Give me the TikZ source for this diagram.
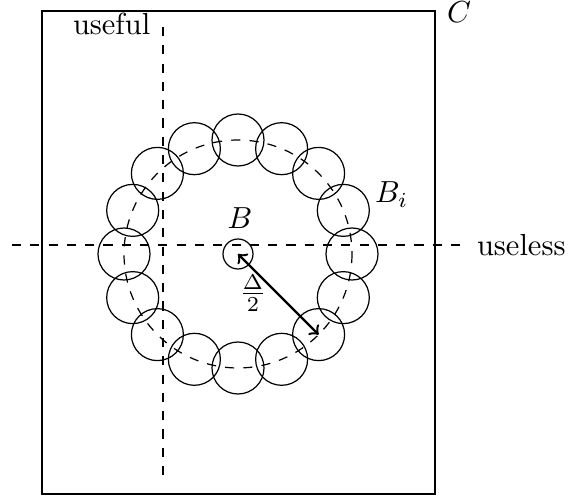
\documentclass[tikz,border=0pt]{standalone}
\usetikzlibrary{calc}
\begin{document}
\begin{tikzpicture}[x=0.328pt,y=-0.328pt,
  guide/.style={dashed, line width=0.4pt},
  ringcircle/.style={line width=0.4pt},
  lbl/.style={inner sep=0pt, outer sep=0pt}]
\useasboundingbox (0,0) rectangle (568,499);
% box C
\draw[line width=0.5pt] (42,11) rectangle (435,494);
\node[lbl, anchor=base west] (Clbl) at (447,23) {$C$};
% guide lines
\coordinate (hl) at (12,245);
\coordinate (hr) at (466,245);
\coordinate (vt) at (163,27);
\coordinate (vb) at (163,479);
\draw[guide] (hl) -- (hr);
\draw[guide] (vt) -- (vb);
\node[lbl, anchor=base west] (useless) at (477,256) {useless};
\node[lbl, anchor=base west] (useful) at (73,35) {useful};
% centre and ring
\coordinate (O) at (238,254);
\draw[guide] (O) circle[radius=114];
\foreach \i in {0,...,15}{
  \coordinate (r\i) at ($(O)+(\i*22.5:114)$);
  \draw[ringcircle] (r\i) circle[radius=26];
}
\draw[ringcircle] (O) circle[radius=15];
\node[lbl, anchor=base] (Blbl) at (240,229) {$B$};
\node[lbl, anchor=base west] (Bilbl) at (375,203) {$B_i$};
\draw[thick,<->] (O) -- (r2);
\node[lbl] (half) at (253,293) {$\frac{\Delta}{2}$};
\end{tikzpicture}
\end{document}
